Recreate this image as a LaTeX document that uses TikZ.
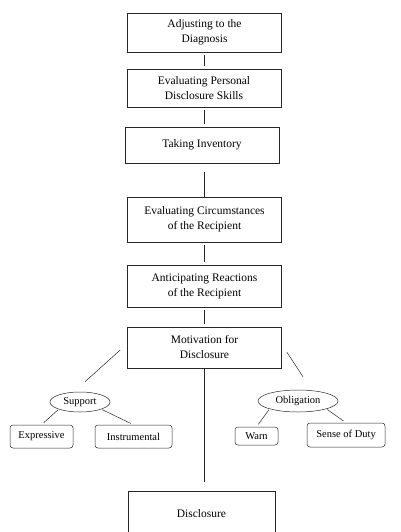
\documentclass[tikz,border=0pt]{standalone}
\usepackage{fontspec}
\setmainfont{Liberation Serif}
\usetikzlibrary{shapes.geometric,calc}

\begin{document}
\begin{tikzpicture}[x=1pt,y=-1pt,draw=black!85,
 stagebox/.style={draw,semithin,minimum width=154pt,minimum height=39pt,align=center,
  font=\fontsize{11.5}{15}\selectfont},
 oval/.style={draw,semithin,ellipse,inner sep=0pt,font=\fontsize{10.5}{12}\selectfont},
 leafbox/.style={draw,semithin,rounded corners=3pt,inner sep=0pt,font=\fontsize{10.5}{12}\selectfont},
 semithin/.style={line width=0.5pt},
 link/.style={semithin,shorten <=3pt,shorten >=3pt}]

\useasboundingbox (0,0) rectangle (401,532);

% main stages
\node[stagebox] (adjust) at (204.5,32.5) {Adjusting to the\\Diagnosis};
\node[stagebox, minimum height=38pt] (skills) at (204,88) {Evaluating Personal\\Disclosure Skills};
\node[stagebox, minimum height=36pt] (inventory) at (202,145) {Taking Inventory};
\node[stagebox, minimum height=45pt] (circum) at (204.5,219.5) {Evaluating Circumstances\\of the Recipient};
\node[stagebox, minimum height=42pt] (anticip) at (204.5,286) {Anticipating Reactions\\of the Recipient};
\node[stagebox, minimum height=41pt] (motiv) at (204.5,347.5) {Motivation for\\Disclosure};
\node[stagebox, minimum width=147pt, minimum height=45pt] (disclose) at (201.5,513.5) {Disclosure};

% motives
\node[oval, minimum width=60pt, minimum height=20pt] (support) at (80,402) {Support};
\node[oval, minimum width=80pt, minimum height=22pt] (oblig) at (298,401) {Obligation};

\node[leafbox, minimum width=63pt, minimum height=23pt] (express) at (41.5,436.5) {Expressive};
\node[leafbox, minimum width=77pt, minimum height=23pt] (instru) at (133.5,436.5) {Instrumental};
\node[leafbox, minimum width=43pt, minimum height=18pt] (warn) at (256.5,436) {Warn};
\node[leafbox, minimum width=78pt, minimum height=24pt] (duty) at (346,435) {Sense of Duty};

\coordinate (gap) at (204,482);

% connectors
\draw[link] (adjust.south -| 204,0) -- (skills.north -| 204,0);
\draw[link] (skills.south -| 204,0) -- (inventory.north -| 204,0);
\draw[link, shorten <=9pt, shorten >=0pt] (inventory.south -| 204,0) -- (circum.north -| 204,0);
\draw[link] (circum.south -| 204,0) -- (anticip.north -| 204,0);
\draw[link] (anticip.south -| 204,0) -- (motiv.north -| 204,0);
\draw[semithin] (motiv.south -| 204,0) -- (gap);

\draw[semithin] ($(motiv.west)+(-7,2.5)$) -- ($(support.north)+(5,-10)$);
\draw[semithin] ($(motiv.east)+(5,4.5)$) -- ($(oblig.north)+(5,-13)$);

\draw[link, shorten <=1pt] (support.south west) -- (express.north);
\draw[link, shorten <=1pt] (support.south east) -- (instru.north);
\draw[link, shorten <=1pt] (oblig.south west) -- (warn.north);
\draw[link, shorten <=1pt] (oblig.south east) -- (duty.north);
\end{tikzpicture}
\end{document}
